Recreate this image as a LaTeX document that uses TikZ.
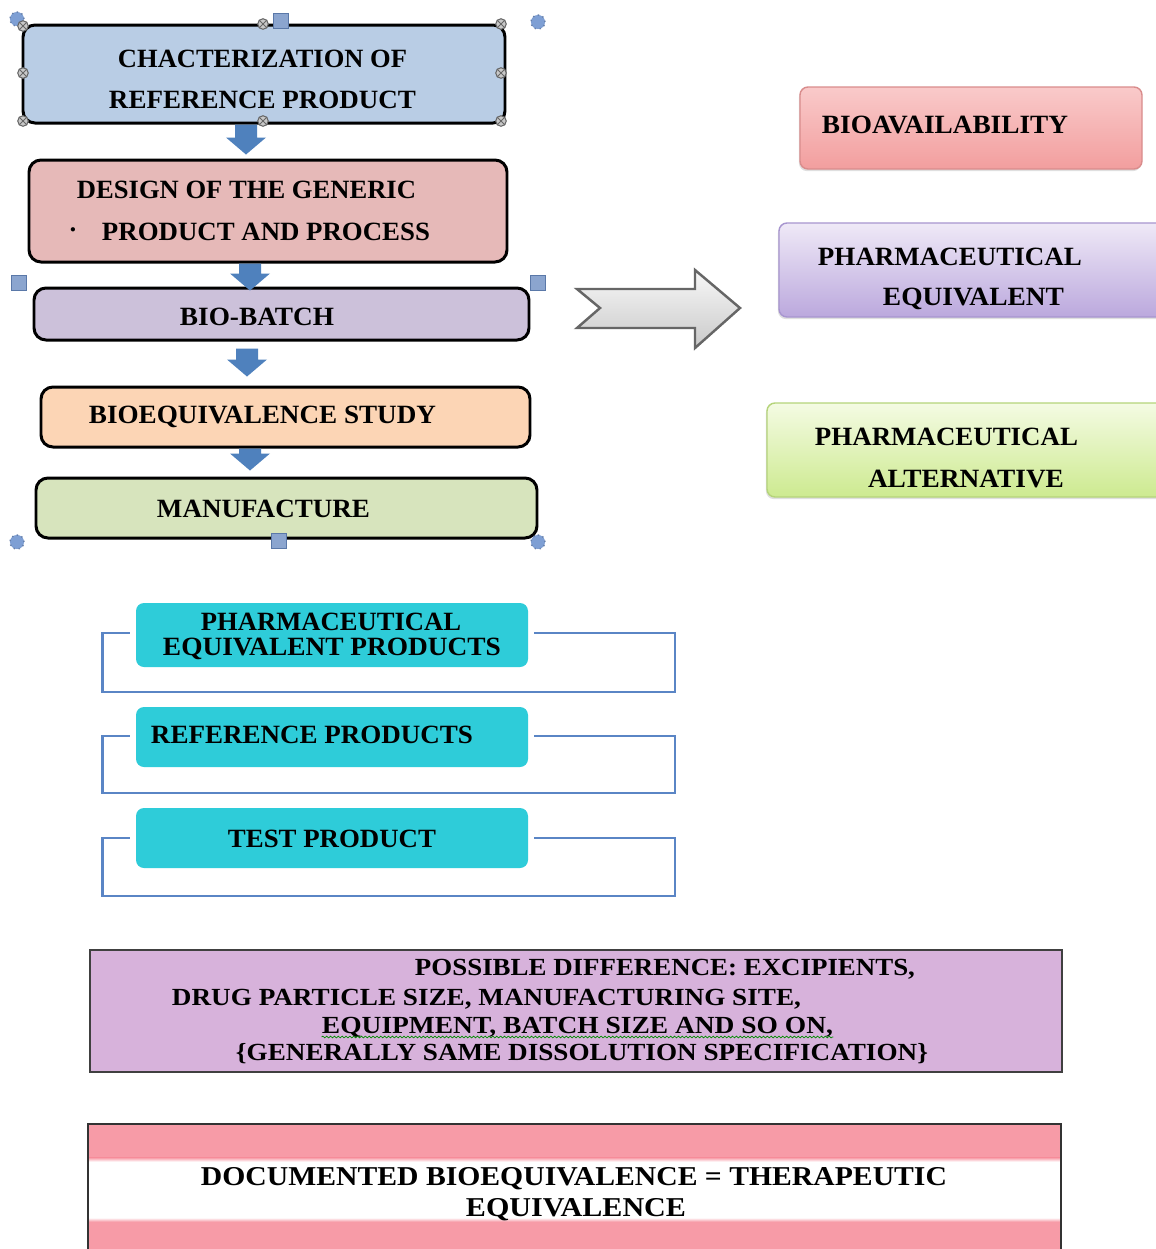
\documentclass[tikz,border=0pt]{standalone}
\usepackage{fontspec}
\setmainfont{Liberation Serif}
\usetikzlibrary{calc,shadows,decorations.pathmorphing}
\definecolor{cblue}{HTML}{B9CDE5}
\definecolor{cpink}{HTML}{E6B9B8}
\definecolor{cpurple}{HTML}{CCC1DA}
\definecolor{cpeach}{HTML}{FCD5B5}
\definecolor{cgreen}{HTML}{D7E4BD}
\definecolor{arrowblue}{HTML}{4F81BD}
\definecolor{ccyan}{HTML}{2ECCD9}
\definecolor{clilac}{HTML}{D7B2DB}
\definecolor{cband}{HTML}{F79BA7}
\definecolor{bracketblue}{HTML}{5A85C5}
\definecolor{hsq}{HTML}{8BA5CF}
\definecolor{hsqb}{HTML}{5A78A8}
\definecolor{hgear}{HTML}{7E9FD4}
\definecolor{hcirc}{HTML}{C8C8C8}
\definecolor{rtop}{HTML}{F9CACA}
\definecolor{rbot}{HTML}{F29E9E}
\definecolor{rbrd}{HTML}{D98C8C}
\definecolor{ptop}{HTML}{EFE9F7}
\definecolor{pbot}{HTML}{BBA8DD}
\definecolor{pbrd}{HTML}{A795CF}
\definecolor{gtop}{HTML}{F4FBE3}
\definecolor{gbot}{HTML}{CDEA90}
\definecolor{gbrd}{HTML}{B5D47A}
\newcommand\tw[2]{\resizebox{\dimexpr0.02cm*#1\relax}{\height}{#2}}
\newcommand\boxat[6]{\node[#2, minimum width={(#5-#3)*0.02cm}, minimum height={(#6-#4)*0.02cm}] (#1) at ({(#3+#5)/2},{(#4+#6)/2}) {};}
\newcommand\blkarrow[2]{\fill[arrowblue] ($(#1)+(-11,0)$) -- ($(#1)+(11,0)$) -- ($(#2)+(11,-17)$) -- ($(#2)+(20,-17)$) -- (#2) -- ($(#2)+(-20,-17)$) -- ($(#2)+(-11,-17)$) -- cycle;}
\tikzset{
  flowbox/.style={draw=black, line width=1.7pt, rounded corners=0.24cm, inner sep=0},
  rbox/.style={rounded corners=0.16cm, inner sep=0, line width=0.8pt,
     drop shadow={shadow xshift=-0.6pt, shadow yshift=-1.2pt, opacity=0.25}},
  cyanbox/.style={fill=ccyan, rounded corners=0.16cm, inner sep=0},
  bracket/.style={draw=bracketblue, line width=1.6pt},
  txt/.style={inner sep=0, anchor=base, font=\bfseries\fontsize{15}{18}\selectfont},
  txtsm/.style={inner sep=0, anchor=base, font=\bfseries\fontsize{14}{17}\selectfont},
  txtbig/.style={inner sep=0, anchor=base, font=\bfseries\fontsize{15.5}{18}\selectfont},
  sqhandle/.style={draw=hsqb, fill=hsq, line width=0.5pt, minimum size=8.5pt, inner sep=0},
  gearhandle/.style={circle, draw=hgear!80!black, fill=hgear, dotted, line width=0.8pt, minimum size=8pt, inner sep=0},
  circhandle/.style={circle, draw=black!60, fill=hcirc, line width=0.6pt, minimum size=6pt, inner sep=0}
}
\begin{document}
\begin{tikzpicture}[x=0.02cm, y=-0.02cm]
\useasboundingbox (0,0) rectangle (1156,1249);
\clip (0,0) rectangle (1156,1249);
\fill[white] (0,0) rectangle (1156,1249);

% ---- left flow chart ----
\boxat{b1}{flowbox, fill=cblue}{23}{25}{505}{123}
\boxat{b2}{flowbox, fill=cpink}{29}{160}{507}{262}
\boxat{b3}{flowbox, fill=cpurple}{34}{288}{529}{340}
\boxat{b4}{flowbox, fill=cpeach}{41}{387}{530}{447}
\boxat{b5}{flowbox, fill=cgreen}{36}{478}{537}{538}

\node[txt] (t1a) at (262.5,67) {\tw{289}{CHACTERIZATION OF}};
\node[txt] (t1b) at (262.5,108) {\tw{307}{REFERENCE PRODUCT}};
\node[txt] (t2a) at (246.5,198) {\tw{339}{DESIGN OF THE GENERIC}};
\node[txt] (t2dot) at (73,238) {·};
\node[txt] (t2b) at (266,240) {\tw{328}{PRODUCT AND PROCESS}};
\node[txt] (t3) at (257,325) {\tw{154}{BIO-BATCH}};
\node[txt] (t4) at (262.5,423) {\tw{347}{BIOEQUIVALENCE STUDY}};
\node[txt] (t5) at (263.5,517) {\tw{213}{MANUFACTURE}};

% block arrows between the boxes
\coordinate (ax1) at (246,0);
\coordinate (ax2) at (250,0);
\coordinate (ax3) at (247,0);
\coordinate (ax4) at (250,0);
\coordinate (p1) at (b1.south -| ax1);
\coordinate (q1) at ($(b2.north -| ax1)+(0,-4)$);
\coordinate (p2) at (b2.south -| ax2);
\coordinate (q2) at ($(b3.north -| ax2)+(0,4)$);
\coordinate (p3) at ($(b3.south -| ax3)+(0,7)$);
\coordinate (q3) at ($(b4.north -| ax3)+(0,-9)$);
\coordinate (p4) at (b4.south -| ax4);
\coordinate (q4) at ($(b5.north -| ax4)+(0,-6)$);
\blkarrow{p1}{q1}
\blkarrow{p2}{q2}
\blkarrow{p3}{q3}
\blkarrow{p4}{q4}

% ---- big grey arrow ----
\draw[line width=1.4pt, draw=black!60, top color=gray!6, bottom color=gray!42, line join=miter]
  (577,289) -- (695,289) -- (695,270) -- (740,308) -- (695,348) -- (695,328) -- (577,328) -- (600,308) -- cycle;

% ---- right boxes ----
\boxat{ba}{rbox, top color=rtop, bottom color=rbot, draw=rbrd}{800}{87}{1142}{169}
\boxat{pe}{rbox, top color=ptop, bottom color=pbot, draw=pbrd}{779}{223}{1175}{317}
\boxat{pa}{rbox, top color=gtop, bottom color=gbot, draw=gbrd}{767}{403}{1175}{497}
\node[txt] (tba) at (945,133) {\tw{246}{BIOAVAILABILITY}};
\node[txt] (tpe1) at (950,265) {\tw{264}{PHARMACEUTICAL}};
\node[txt] (tpe2) at (973.5,305) {\tw{181}{EQUIVALENT}};
\node[txt] (tpa1) at (946.5,445) {\tw{263}{PHARMACEUTICAL}};
\node[txt] (tpa2) at (966,487) {\tw{196}{ALTERNATIVE}};

% ---- cyan boxes with brackets ----
\boxat{c1}{cyanbox}{136}{603}{528}{667}
\boxat{c2}{cyanbox}{136}{707}{528}{767}
\boxat{c3}{cyanbox}{136}{808}{528}{868}
\coordinate (k1) at (675,692);
\coordinate (k2) at (675,793);
\coordinate (k3) at (675,896);
\draw[bracket] ($(c1.east)+(6,-2)$) -| (k1) -| ($(c1.west)+(-33,-2)$) -- ($(c1.west)+(-6,-2)$);
\draw[bracket] ($(c2.east)+(6,-1)$) -| (k2) -| ($(c2.west)+(-33,-1)$) -- ($(c2.west)+(-6,-1)$);
\draw[bracket] ($(c3.east)+(6,0)$) -| (k3) -| ($(c3.west)+(-33,0)$) -- ($(c3.west)+(-6,0)$);
\node[txt] (tc1a) at (331,630) {\tw{260}{PHARMACEUTICAL}};
\node[txt] (tc1b) at (332,655) {\tw{338}{EQUIVALENT PRODUCTS}};
\node[txt] (tc2) at (312,743) {\tw{322}{REFERENCE PRODUCTS}};
\node[txt] (tc3) at (332,847) {\tw{208}{TEST PRODUCT}};

% ---- possible difference box ----
\boxat{pd}{draw=black!75, fill=clilac, line width=1.1pt, inner sep=0}{90}{950}{1062}{1072}
\node[txtsm] (pd1) at (665,975) {\tw{500}{POSSIBLE DIFFERENCE: EXCIPIENTS,}};
\node[txtsm] (pd2) at (486.5,1005) {\tw{629}{DRUG PARTICLE SIZE, MANUFACTURING SITE,}};
\node[txtsm] (pd3) at (577.5,1033) {\tw{511}{EQUIPMENT, BATCH SIZE AND SO ON,}};
\node[txtsm] (pd4) at (582,1060) {\tw{692}{\{GENERALLY SAME DISSOLUTION SPECIFICATION\}}};
\draw[green!55!black, line width=0.4pt, decorate, decoration={snake, amplitude=0.5pt, segment length=2.2pt}]
  ($(pd3.base west)+(0,4)$) -- ($(pd3.base east)+(0,4)$);

% ---- documented bioequivalence box ----
\boxat{de}{fill=white, inner sep=0}{88}{1124}{1061}{1262}
\fill[cband] (de.north west) rectangle ($(de.north east)+(0,34)$);
\shade[top color=cband, bottom color=white] ($(de.north west)+(0,34)$) rectangle ($(de.north east)+(0,38)$);
\shade[top color=white, bottom color=cband] ($(de.north west)+(0,94)$) rectangle ($(de.north east)+(0,98)$);
\fill[cband] ($(de.north west)+(0,98)$) rectangle (de.south east);
\draw[black!80, line width=1pt] (de.south west) -- (de.north west) -- (de.north east) -- (de.south east);
\node[txtbig] (de1) at (574,1185) {\tw{746}{DOCUMENTED BIOEQUIVALENCE = THERAPEUTIC}};
\node[txtbig] (de2) at (576,1216) {\tw{220}{EQUIVALENCE}};

% ---- selection handles ----
\node[gearhandle] (g0) at (17,19) {};
\node[gearhandle] (g1) at (538,22) {};
\node[gearhandle] (g2) at (17,542) {};
\node[gearhandle] (g3) at (538,542) {};
\node[sqhandle] (s0) at (281,21) {};
\node[sqhandle] (s1) at (19,283) {};
\node[sqhandle] (s2) at (538,283) {};
\node[sqhandle] (s3) at (279,541) {};
\foreach \i/\hx/\hy in {1/23/26, 2/263/24, 3/501/24, 4/23/73, 5/501/73, 6/23/121, 7/263/121, 8/501/121}{
  \node[circhandle] (h\i) at (\hx,\hy) {};
  \draw[black!60, line width=0.5pt] (h\i.north west) -- (h\i.south east) (h\i.north east) -- (h\i.south west);
}
\end{tikzpicture}
\end{document}
